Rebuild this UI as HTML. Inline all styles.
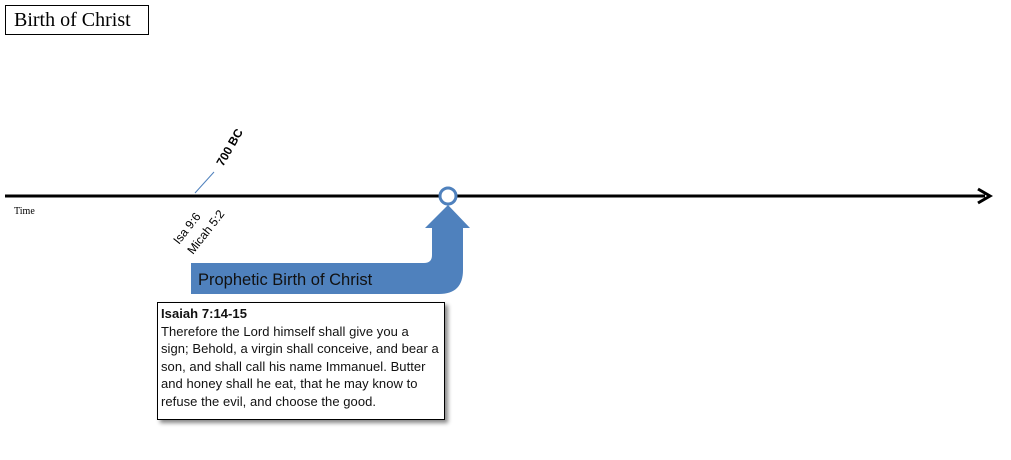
<!DOCTYPE html>
<html><head><meta charset="utf-8"><style>
body{margin:0;width:1011px;height:460px;background:#fff;overflow:hidden;position:relative;font-family:"Liberation Sans",sans-serif}
.title{position:absolute;left:5px;top:5px;border:1px solid #000;font-family:"Liberation Serif",serif;font-size:20px;line-height:28px;padding-left:8px;box-sizing:border-box;width:144px;height:30px}
.box{position:absolute;left:157px;top:302px;width:288px;height:118px;border:1px solid #000;box-sizing:border-box;box-shadow:3px 3px 4px #888;font-size:13px;line-height:17.6px;padding:2px 3px;color:#111;letter-spacing:0.05px;white-space:nowrap}
</style></head><body>
<div class="title">Birth of Christ</div>
<svg width="1011" height="460" style="position:absolute;left:0;top:0">
<line x1="5" y1="196" x2="985" y2="196" stroke="#000" stroke-width="3"/>
<path d="M978,189 L990,196 L978,203" fill="none" stroke="#000" stroke-width="3"/>
<line x1="195" y1="193" x2="214" y2="172" stroke="#4f81bd" stroke-width="1"/>
<path d="M191,263 L424,263 Q432,263 432,255 L432,228 L425,228 L448,205 L470,228 L463,228 L463,270 Q463,294 439,294 L191,294 Z" fill="#4f81bd"/>
<circle cx="448" cy="196" r="8" fill="#fff" stroke="#4f81bd" stroke-width="3"/>
<text x="198" y="285" font-size="16.5" fill="#111">Prophetic Birth of Christ</text>
<text x="14" y="214" font-size="10" font-family="Liberation Serif, serif">Time</text>
<text transform="translate(223,167) rotate(-60)" font-size="12" font-weight="bold">700 BC</text>
<text transform="translate(179,245) rotate(-52)" font-size="12">Isa 9:6</text>
<text transform="translate(193,255) rotate(-52)" font-size="12">Micah 5:2</text>
</svg>
<div class="box"><b>Isaiah 7:14-15</b><br>Therefore the Lord himself shall give you a<br>sign; Behold, a virgin shall conceive, and bear a<br>son, and shall call his name Immanuel. Butter<br>and honey shall he eat, that he may know to<br>refuse the evil, and choose the good.</div>
</body></html>
